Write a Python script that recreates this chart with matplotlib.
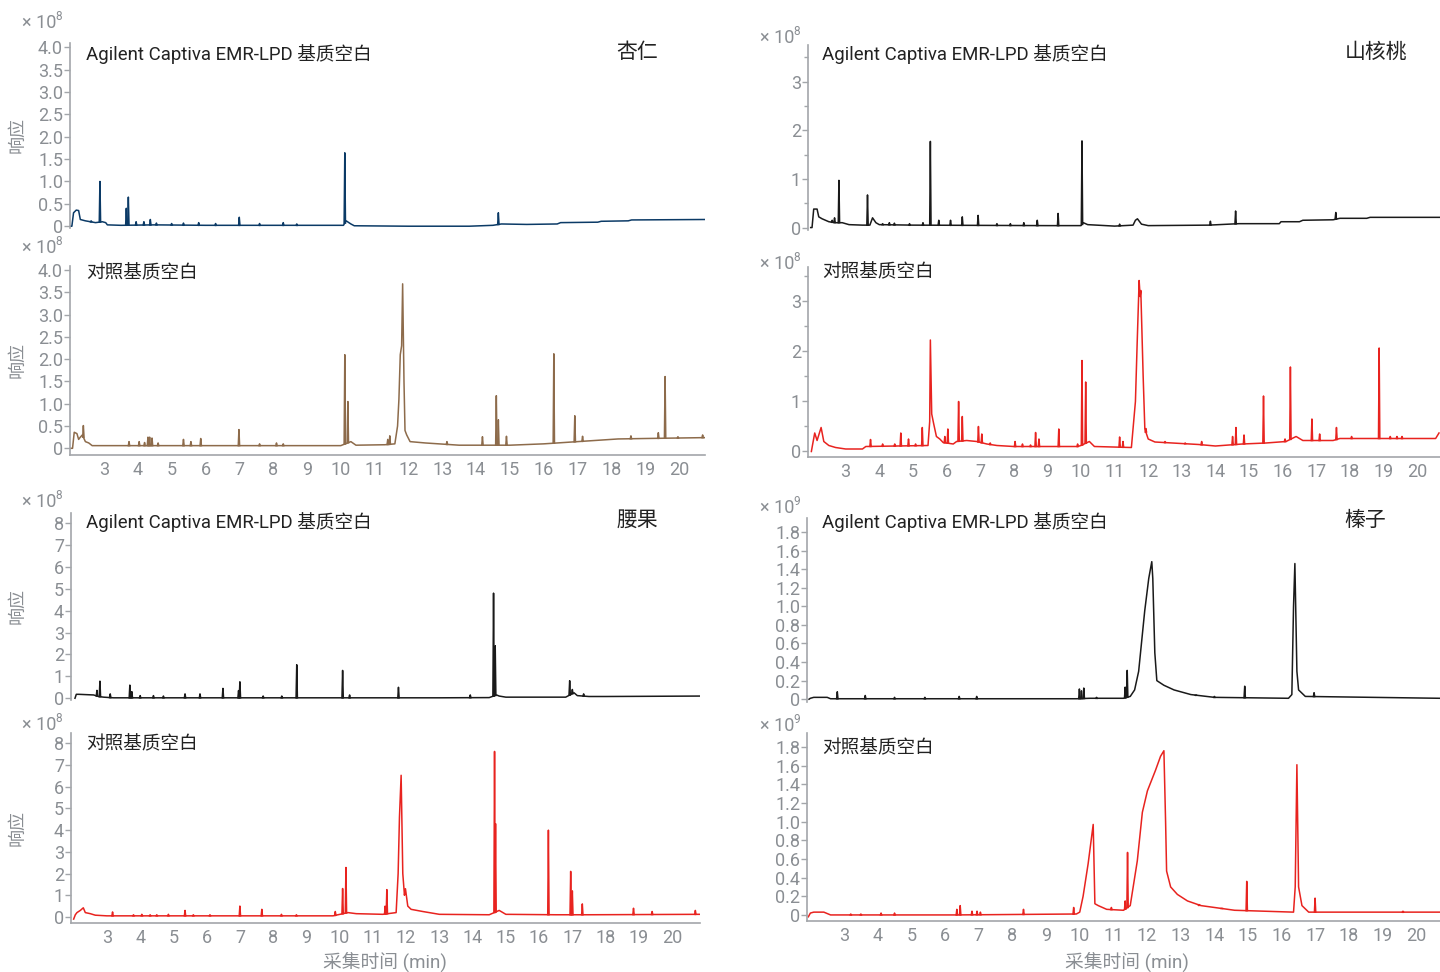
import numpy as np
import matplotlib
matplotlib.use('Agg')
import matplotlib.pyplot as plt
from matplotlib.ticker import FuncFormatter, MultipleLocator

plt.rcParams['font.family'] = ['Roboto', 'Noto Sans CJK SC', 'DejaVu Sans']

# ---- 杏仁 (×10^8) ----
a1_base_t = [2.0, 2.05, 2.1, 2.18, 2.25, 2.3, 2.45, 2.6, 2.75, 2.95, 3.05, 3.1, 3.5, 4.5, 6.0, 8.0, 10.08, 10.16, 10.3, 10.4,
             12.0, 13.8, 14.5, 14.75, 15.5, 16.4, 16.5, 17.6, 17.7, 18.5, 18.6, 20.77]
a1_base_y = [0.0, 0.0, 0.3, 0.36, 0.35, 0.15, 0.12, 0.1, 0.08, 0.1, 0.08, 0.03, 0.02, 0.03, 0.02, 0.02, 0.02, 0.12, 0.05, 0.01,
             0.0, 0.0, 0.02, 0.05, 0.04, 0.05, 0.08, 0.09, 0.11, 0.12, 0.14, 0.15]
a1_peak_t = [2.62, 2.88, 3.66, 3.72, 3.95, 4.18, 4.37, 4.55, 5.0, 5.35, 5.8, 6.3, 7.0, 7.6, 8.3, 8.7, 10.12, 14.66]
a1_peak_h = [0.12, 1.0, 0.4, 0.65, 0.1, 0.1, 0.15, 0.07, 0.06, 0.07, 0.08, 0.06, 0.2, 0.06, 0.08, 0.05, 1.64, 0.3]

a2_base_t = [2.0, 2.07, 2.12, 2.2, 2.25, 2.3, 2.36, 2.45, 2.55, 2.65, 4.0, 10.0, 10.3, 10.45, 11.3, 11.6, 11.68, 11.72,
             11.76, 11.8, 11.83, 11.87, 11.9, 11.95, 12.05, 12.5, 13.5, 15.0, 16.0, 17.2, 18.2, 19.0, 20.77]
a2_base_y = [0.0, 0.0, 0.36, 0.33, 0.2, 0.25, 0.3, 0.15, 0.12, 0.06, 0.06, 0.06, 0.15, 0.07, 0.08, 0.1, 0.5, 1.1,
             2.1, 2.3, 3.69, 1.5, 0.4, 0.3, 0.15, 0.12, 0.07, 0.07, 0.1, 0.16, 0.21, 0.22, 0.24]
a2_peak_t = [2.39, 3.74, 4.04, 4.2, 4.3, 4.35, 4.42, 4.6, 5.35, 5.57, 5.86, 6.99, 7.6, 8.1, 8.3, 10.12, 10.21, 11.39,
             11.45, 13.14, 14.19, 14.6, 14.66, 14.9, 16.3, 16.92, 17.15, 18.58, 19.39, 19.59, 19.97, 20.7]
a2_peak_h = [0.51, 0.15, 0.15, 0.13, 0.25, 0.25, 0.23, 0.12, 0.2, 0.15, 0.22, 0.42, 0.1, 0.12, 0.1, 2.1, 1.05, 0.2,
             0.28, 0.15, 0.26, 1.18, 0.64, 0.27, 2.12, 0.73, 0.27, 0.28, 0.35, 1.61, 0.26, 0.3]

# ---- 山核桃 (×10^8) ----
b1_base_t = [1.96, 2.0, 2.05, 2.15, 2.2, 2.3, 2.5, 2.7, 2.9, 3.1, 3.5, 3.72, 3.8, 3.9, 4.0, 5.0, 9.0, 10.0, 10.07, 10.2,
             11.0, 11.55, 11.62, 11.68, 11.8, 12.0, 13.8, 14.7, 15.9, 15.95, 16.5, 16.6, 17.5, 17.7, 18.5, 18.6, 20.7]
b1_base_y = [0.0, 0.0, 0.38, 0.38, 0.22, 0.18, 0.12, 0.1, 0.1, 0.06, 0.05, 0.05, 0.2, 0.1, 0.06, 0.05, 0.04, 0.04, 0.1, 0.06,
             0.03, 0.05, 0.15, 0.18, 0.07, 0.04, 0.05, 0.08, 0.08, 0.12, 0.12, 0.15, 0.16, 0.19, 0.19, 0.21, 0.21]
b1_peak_t = [2.6, 2.67, 2.8, 3.65, 4.1, 4.3, 4.45, 4.9, 5.3, 5.52, 5.77, 6.12, 6.47, 6.94, 7.5, 7.9, 8.3, 8.7, 9.32,
             10.03, 11.15, 13.85, 14.6, 17.58]
b1_peak_h = [0.15, 0.2, 0.97, 0.67, 0.08, 0.1, 0.09, 0.08, 0.1, 1.77, 0.15, 0.15, 0.22, 0.25, 0.08, 0.08, 0.1, 0.15, 0.29,
             1.78, 0.07, 0.13, 0.34, 0.31]

b2_base_t = [1.98, 2.02, 2.08, 2.15, 2.27, 2.35, 2.5, 2.7, 3.0, 3.5, 3.6, 5.45, 5.5, 5.52, 5.56, 5.62, 5.7, 5.8, 5.9,
             6.2, 6.3, 6.6, 6.9, 7.2, 7.5, 8.0, 8.8, 9.9, 10.0, 10.25, 10.4, 11.5, 11.62, 11.67, 11.73, 11.76, 11.78,
             11.85, 11.9, 12.0, 12.2, 13.5, 14.0, 14.8, 15.5, 16.1, 16.4, 16.6, 17.5, 17.7, 20.55, 20.65]
b2_base_y = [0.0, 0.15, 0.37, 0.22, 0.48, 0.2, 0.12, 0.08, 0.05, 0.05, 0.1, 0.12, 0.6, 2.23, 0.75, 0.55, 0.3, 0.25, 0.18,
             0.15, 0.2, 0.22, 0.2, 0.15, 0.12, 0.1, 0.1, 0.1, 0.12, 0.2, 0.1, 0.08, 1.0, 2.13, 3.42, 3.1, 3.22,
             1.5, 0.45, 0.25, 0.19, 0.14, 0.11, 0.15, 0.17, 0.2, 0.3, 0.22, 0.22, 0.26, 0.26, 0.37]
b2_peak_t = [3.74, 4.1, 4.46, 4.64, 4.87, 5.08, 5.28, 5.95, 6.04, 6.36, 6.47, 6.95, 7.05, 7.3, 8.04, 8.26, 8.5, 8.65,
             8.75, 9.34, 9.9, 10.03, 10.14, 11.15, 11.25, 11.93, 12.5, 13.1, 13.59, 14.51, 14.61, 14.85, 15.43, 16.07,
             16.23, 16.87, 17.1, 17.6, 18.05, 18.87, 19.2, 19.4, 19.55]
b2_peak_h = [0.24, 0.15, 0.15, 0.37, 0.25, 0.15, 0.48, 0.3, 0.45, 1.0, 0.7, 0.5, 0.35, 0.17, 0.2, 0.15, 0.13, 0.38,
             0.25, 0.45, 0.15, 1.82, 1.39, 0.29, 0.2, 0.46, 0.2, 0.17, 0.2, 0.3, 0.48, 0.33, 1.11, 0.25,
             1.69, 0.65, 0.35, 0.48, 0.3, 2.07, 0.3, 0.3, 0.3]

# ---- 腰果 (×10^8) ----
c1_base_t = [2.04, 2.08, 2.15, 2.6, 2.75, 2.9, 3.2, 5.0, 10.0, 11.5, 13.0, 14.5, 14.72, 14.8, 15.0, 16.8, 17.05, 17.15, 17.5,
             18.0, 20.86]
c1_base_y = [0.0, 0.18, 0.18, 0.15, 0.08, 0.05, 0.02, 0.02, 0.02, 0.02, 0.02, 0.03, 0.15, 0.1, 0.05, 0.05, 0.25, 0.12, 0.08,
             0.08, 0.1]
c1_peak_t = [2.7, 2.79, 3.1, 3.69, 3.75, 4.0, 4.4, 4.7, 5.35, 5.8, 6.49, 6.96, 7.0, 7.7, 8.26, 8.71, 10.09, 10.3, 11.77,
             13.93, 14.63, 14.68, 16.92, 17.0, 17.34]
c1_peak_h = [0.36, 0.78, 0.2, 0.6, 0.3, 0.12, 0.12, 0.1, 0.2, 0.2, 0.45, 0.35, 0.75, 0.1, 0.1, 1.53, 1.27, 0.15, 0.5,
             0.15, 4.8, 2.4, 0.8, 0.4, 0.2]

c2_base_t = [2.0, 2.05, 2.1, 2.2, 2.29, 2.35, 2.5, 2.65, 3.0, 9.8, 10.25, 10.5, 11.3, 11.7, 11.76, 11.8, 11.85, 11.9,
             11.95, 11.98, 12.05, 12.15, 12.5, 13.0, 14.5, 14.8, 15.0, 16.5, 17.5, 20.84]
c2_base_y = [-0.1, 0.1, 0.2, 0.3, 0.42, 0.2, 0.15, 0.08, 0.05, 0.05, 0.2, 0.15, 0.12, 0.2, 2.0, 4.6, 6.53, 2.0,
             1.0, 1.3, 0.5, 0.35, 0.25, 0.12, 0.1, 0.3, 0.12, 0.1, 0.1, 0.12]
c2_peak_t = [3.17, 3.8, 4.05, 4.3, 4.5, 4.85, 5.35, 5.6, 6.1, 7.0, 7.66, 8.25, 8.7, 9.87, 10.09, 10.19, 11.37, 11.42,
             14.66, 14.69, 16.28, 16.95, 17.0, 17.3, 18.84, 19.4, 20.7]
c2_peak_h = [0.23, 0.1, 0.12, 0.1, 0.1, 0.12, 0.3, 0.1, 0.1, 0.5, 0.35, 0.12, 0.1, 0.25, 1.31, 2.28, 0.5, 1.26,
             7.63, 4.3, 4.0, 2.1, 1.2, 0.6, 0.4, 0.25, 0.3]

# ---- 榛子 (×10^9) ----
d1_base_t = [1.96, 2.0, 2.1, 2.5, 2.6, 9.9, 10.3, 11.3, 11.5, 11.63, 11.75, 11.93, 12.05, 12.14, 12.17, 12.23, 12.29,
             12.5, 12.8, 13.3, 14.0, 16.2, 16.3, 16.35, 16.39, 16.45, 16.5, 16.7, 20.7]
d1_base_y = [0.0, 0.01, 0.02, 0.02, 0.005, 0.005, 0.01, 0.01, 0.03, 0.1, 0.3, 0.95, 1.3, 1.48, 1.3, 0.5, 0.2,
             0.15, 0.1, 0.05, 0.02, 0.01, 0.05, 1.0, 1.46, 0.3, 0.1, 0.03, 0.01]
d1_peak_t = [2.8, 3.63, 4.5, 5.4, 6.42, 6.94, 9.99, 10.05, 10.12, 10.5, 11.35, 11.41, 13.45, 14.0, 14.9, 16.96]
d1_peak_h = [0.08, 0.04, 0.02, 0.02, 0.03, 0.03, 0.11, 0.09, 0.12, 0.02, 0.13, 0.31, 0.04, 0.03, 0.14, 0.07]

d2_base_t = [1.94, 2.0, 2.1, 2.4, 2.6, 6.3, 9.9, 10.0, 10.1, 10.25, 10.4, 10.45, 10.55, 10.8, 11.3, 11.5, 11.71, 11.86,
             12.01, 12.25, 12.4, 12.5, 12.55, 12.58, 12.7, 12.9, 13.2, 13.6, 14.2, 14.6, 16.35, 16.4, 16.45, 16.5,
             16.6, 16.8, 20.7]
d2_base_y = [-0.02, 0.02, 0.03, 0.03, 0.0, 0.0, 0.01, 0.03, 0.2, 0.55, 0.97, 0.12, 0.1, 0.06, 0.05, 0.1, 0.58, 1.1,
             1.33, 1.55, 1.7, 1.76, 1.0, 0.47, 0.3, 0.22, 0.15, 0.1, 0.07, 0.05, 0.03, 0.3, 1.61, 0.3,
             0.1, 0.03, 0.03]
d2_peak_t = [3.2, 3.5, 4.1, 4.5, 6.35, 6.45, 6.8, 6.95, 7.05, 8.33, 9.82, 10.94, 11.35, 11.42, 13.54, 14.22, 14.96,
             16.99, 19.6]
d2_peak_h = [0.01, 0.01, 0.02, 0.02, 0.06, 0.1, 0.04, 0.04, 0.03, 0.06, 0.08, 0.08, 0.15, 0.67, 0.1, 0.07, 0.36,
             0.18, 0.04]

title_top = 'Agilent Captiva EMR-LPD 基质空白'
title_bottom = '对照基质空白'
samples = ['杏仁', '山核桃', '腰果', '榛子']
x_ticks = list(range(3, 21))

GRAY = '#8a8e93'
SPINE = '#a3a6aa'
TEXT = '#222222'
W, H = 1440, 972

fig = plt.figure(figsize=(14.4, 9.72), dpi=100)


def add_axes(l, t, r, b):
    return fig.add_axes([l / W, 1 - b / H, (r - l) / W, (b - t) / H])


def fmt(v, pos):
    if abs(v) < 1e-9:
        return '0'
    return f'{v:.1f}'


def draw(ax, bt, by, pt, ph, color, w=0.02):
    ax.plot(bt, by, color=color, lw=1.1)
    base = np.interp(pt, bt, by)
    for t, h, b0 in zip(pt, ph, base):
        ax.plot([t - w, t, t + w], [b0, h, b0], color=color, lw=1.1)


def style(ax, xlim, ylim, major, minor=None, decimals=True, bottom=False):
    ax.set_xlim(*xlim)
    ax.set_ylim(*ylim)
    for s in ['top', 'right']:
        ax.spines[s].set_visible(False)
    ax.spines['left'].set_color(SPINE)
    ax.spines['left'].set_linewidth(1.2)
    ax.yaxis.set_major_locator(MultipleLocator(major))
    if minor:
        ax.yaxis.set_minor_locator(MultipleLocator(minor))
    if decimals:
        ax.yaxis.set_major_formatter(FuncFormatter(fmt))
    ax.tick_params(axis='y', which='both', colors=SPINE, labelcolor=GRAY, labelsize=13, length=4, width=1, pad=1)
    ax.tick_params(axis='y', which='minor', length=3)
    if bottom:
        ax.spines['bottom'].set_color(SPINE)
        ax.spines['bottom'].set_linewidth(1.2)
        ax.set_xticks(x_ticks)
        ax.tick_params(axis='x', colors=SPINE, labelcolor=GRAY, labelsize=13, length=0, pad=4)
    else:
        ax.spines['bottom'].set_visible(False)
        ax.set_xticks([])


def sup(x, y, exp):
    fig.text(x / W, 1 - y / H, '× 10', color=GRAY, fontsize=13, va='baseline', ha='left')
    fig.text((x + 33) / W, 1 - (y - 8) / H, exp, color=GRAY, fontsize=8.5, va='baseline', ha='left')


# 杏仁
ax = add_axes(70, 42.7, 705, 228)
draw(ax, a1_base_t, a1_base_y, a1_peak_t, a1_peak_h, '#0b3a66')
style(ax, (1.995, 20.77), (-0.04, 4.1), 0.5)
ax = add_axes(70, 266, 705, 455)
draw(ax, a2_base_t, a2_base_y, a2_peak_t, a2_peak_h, '#8d6b4b')
style(ax, (1.995, 20.77), (-0.15, 4.09), 0.5, bottom=True)

# 山核桃
ax = add_axes(808, 45, 1440, 230)
draw(ax, b1_base_t, b1_base_y, b1_peak_t, b1_peak_h, '#1a1a1a')
style(ax, (1.88, 20.68), (-0.05, 3.75), 1, 0.5, decimals=False)
ax = add_axes(808, 267, 1440, 457)
draw(ax, b2_base_t, b2_base_y, b2_peak_t, b2_peak_h, '#e8231f')
style(ax, (1.88, 20.68), (-0.11, 3.69), 1, 0.5, decimals=False, bottom=True)

# 腰果
ax = add_axes(71, 513, 700, 700)
draw(ax, c1_base_t, c1_base_y, c1_peak_t, c1_peak_h, '#1a1a1a')
style(ax, (1.92, 20.84), (-0.08, 8.46), 1, decimals=False)
ax = add_axes(71, 733, 700, 923)
draw(ax, c2_base_t, c2_base_y, c2_peak_t, c2_peak_h, '#e8231f')
style(ax, (1.92, 20.84), (-0.28, 8.48), 1, decimals=False, bottom=True)

# 榛子
ax = add_axes(807, 518, 1440, 702)
draw(ax, d1_base_t, d1_base_y, d1_peak_t, d1_peak_h, '#1a1a1a')
style(ax, (1.90, 20.7), (-0.03, 1.95), 0.2)
ax = add_axes(807, 733, 1440, 921)
draw(ax, d2_base_t, d2_base_y, d2_peak_t, d2_peak_h, '#e8231f')
style(ax, (1.90, 20.7), (-0.065, 1.95), 0.2, bottom=True)

# panel titles
for x, y in [(86, 54), (822, 54), (86, 522), (822, 522)]:
    fig.text(x / W, 1 - y / H, title_top, fontsize=13.4, color=TEXT, va='center', ha='left')
for x, y in [(86, 273), (822, 272), (86, 744), (822, 748)]:
    fig.text(x / W, 1 - y / H, title_bottom, fontsize=13.4, color=TEXT, va='center', ha='left')
for name, (x, y) in zip(samples, [(637, 52), (1376, 52), (637, 520), (1365, 520)]):
    fig.text(x / W, 1 - y / H, name, fontsize=15, color=TEXT, va='center', ha='center')

# multipliers
for x, y, e in [(22, 28, '8'), (22, 253, '8'), (760, 43, '8'), (760, 269, '8'),
                (22, 507, '8'), (22, 730, '8'), (760, 513, '9'), (760, 731, '9')]:
    sup(x, y, e)

# y labels
for y in [135, 360, 606, 828]:
    fig.text(17 / W, 1 - y / H, '响应', fontsize=13, color=GRAY, rotation=90, va='center', ha='center')

# x labels
for x in [385, 1127]:
    fig.text(x / W, 1 - 962 / H, '采集时间 (min)', fontsize=13.5, color=GRAY, va='center', ha='center')

fig.savefig('out.png', dpi=100)
